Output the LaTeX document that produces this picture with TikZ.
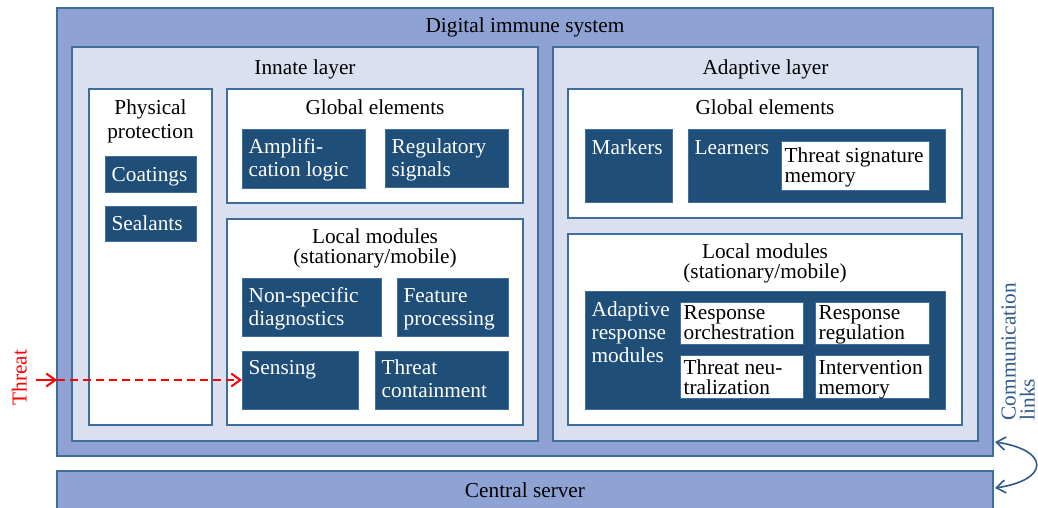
\documentclass[tikz,border=0pt]{standalone}
\usepackage{fontspec}
\setmainfont{Liberation Serif}
\usetikzlibrary{arrows.meta}
\definecolor{sysblue}{HTML}{8FA2D4}
\definecolor{layerblue}{HTML}{DAE0F0}
\definecolor{edgeblue}{HTML}{3F6E9C}
\definecolor{modblue}{HTML}{1F4E79}
\definecolor{linkblue}{HTML}{2E5A8C}
\newcommand{\ts}{\vrule width 0pt height 16pt\relax}

\begin{document}
\begin{tikzpicture}[x=1pt,y=-1pt,line width=1.3pt,
  >={Straight Barb[length=9pt,width=13pt]},
  font=\fontsize{21.3}{23}\selectfont,
  every node/.style={inner sep=0pt},
  sysbox/.style={draw=edgeblue,fill=sysblue},
  layerbox/.style={draw=edgeblue,fill=layerblue},
  groupbox/.style={draw=edgeblue,fill=white},
  modbox/.style={draw=edgeblue,line width=1pt,fill=modblue},
  subbox/.style={draw=edgeblue,line width=1pt,fill=white},
  head/.style={anchor=north,align=center},
  modtext/.style={anchor=north west,align=left,text=white},
  subtext/.style={anchor=north west,align=left,font=\fontsize{21.3}{20}\selectfont},
  threat/.style={red,line width=2pt,->},
  link/.style={linkblue,line width=1.6pt,<->}]
\useasboundingbox (0,0) rectangle (1038,508);
\draw[sysbox] (57,8) rectangle (993,456);
\draw[sysbox] (57,471) rectangle (993,515);
\node[head] (sysT) at (525,16) {\ts Digital immune system};
\node[head] (srvT) at (525,481) {\ts Central server};
\draw[layerbox] (72,47) rectangle (538,441);
\draw[layerbox] (553,47) rectangle (978,441);
\node[head] (innT) at (305,58) {\ts Innate layer};
\node[head] (adpT) at (765.5,58) {\ts Adaptive layer};
\draw[groupbox] (89,89) rectangle (212,425);
\node[head,font=\fontsize{21.3}{24}\selectfont] (phyT) at (150.5,98) {\ts Physical\\protection};
\draw[modbox] (105,156) rectangle (196,192);
\node[modtext] (coatT) at (111,165) {\ts Coatings};
\draw[modbox] (105,206) rectangle (196,241);
\node[modtext] (sealT) at (111,214) {\ts Sealants};
\draw[groupbox] (227,89) rectangle (523,203);
\node[head] (gl1T) at (375,98) {\ts Global elements};
\draw[modbox] (242,130) rectangle (365,188);
\node[modtext] (amplT) at (248,137) {\ts Amplifi-\\cation logic};
\draw[modbox] (385,130) rectangle (508,187);
\node[modtext] (regsT) at (391,137) {\ts Regulatory\\signals};
\draw[groupbox] (227,219) rectangle (523,425);
\node[head,font=\fontsize{21.3}{19.5}\selectfont] (lm1T) at (375,227) {\ts Local modules\\(stationary/mobile)};
\draw[modbox] (242,278) rectangle (381,336);
\node[modtext] (nonsT) at (248,286) {\ts Non-specific\\diagnostics};
\draw[modbox] (397,278) rectangle (508,336);
\node[modtext] (featT) at (403,286) {\ts Feature\\processing};
\draw[modbox] (242,351) coordinate (sens) rectangle (358,409);
\node[modtext] (sensT) at (248,358) {\ts Sensing};
\draw[modbox] (375,351) rectangle (508,409);
\node[modtext] (contT) at (381,358) {\ts Threat\\containment};
\draw[groupbox] (568,89) rectangle (962,218);
\node[head] (gl2T) at (765,98) {\ts Global elements};
\draw[modbox] (585,130) rectangle (672,202);
\node[modtext] (markT) at (591,138) {\ts Markers};
\draw[modbox] (688,130) rectangle (945,202);
\node[modtext] (lernT) at (694,138) {\ts Learners};
\draw[subbox] (781,141) rectangle (929,190);
\node[subtext] (tsigT) at (784,146) {\ts Threat signature\\memory};
\draw[groupbox] (568,234) rectangle (962,425);
\node[head,font=\fontsize{21.3}{19.5}\selectfont] (lm2T) at (765,242) {\ts Local modules\\(stationary/mobile)};
\draw[modbox] (585,291) rectangle (945,409);
\node[modtext] (armT) at (591,300) {\ts Adaptive\\response\\modules};
\draw[subbox] (680,302) rectangle (803,344);
\node[subtext] (orchT) at (683,303) {\ts Response\\orchestration};
\draw[subbox] (815,302) rectangle (929,344);
\node[subtext] (reguT) at (818,303) {\ts Response\\regulation};
\draw[subbox] (680,355) rectangle (803,398);
\node[subtext] (neutT) at (683,358) {\ts Threat neu-\\tralization};
\draw[subbox] (815,355) rectangle (929,398);
\node[subtext] (ivmT) at (818,358) {\ts Intervention\\memory};
\coordinate (src) at (36,380);
\coordinate (entry) at (57,380);
\draw[threat] (src) -- (entry);
\draw[threat,dash pattern=on 8pt off 5pt] (entry) -- (entry -| sens);
\node[rotate=90,anchor=north west,text=red] (thrT) at (10,406) {\ts Threat};
\coordinate (l1) at (995,442);
\coordinate (l2) at (995,488);
\draw[link] (l1) .. controls (1050,450) and (1050,480) .. (l2);
\node[rotate=90,anchor=north west,align=left,text=linkblue,font=\fontsize{21.3}{19}\selectfont] (linkT) at (999,421) {\ts Communication\\links};
\end{tikzpicture}
\end{document}
